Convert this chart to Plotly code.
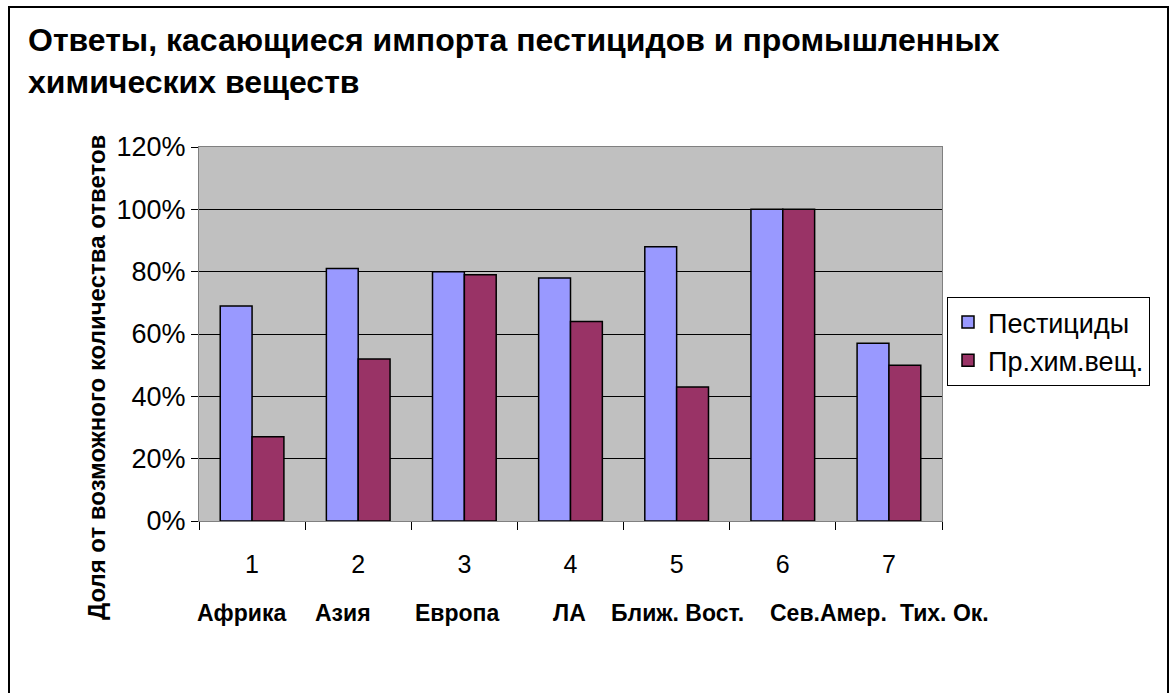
import plotly.graph_objects as go

categories = ["1", "2", "3", "4", "5", "6", "7"]
regions = ["Африка", "Азия", "Европа", "ЛА", "Ближ. Вост.", "Сев.Амер.", "Тих. Ок."]
region_x = [241, 343, 457, 569, 677, 828, 944]
pesticides = [0.69, 0.81, 0.80, 0.78, 0.88, 1.00, 0.57]
chemicals = [0.27, 0.52, 0.79, 0.64, 0.43, 1.00, 0.50]
y_ticks = [0, 0.2, 0.4, 0.6, 0.8, 1.0, 1.2]
y_ticklabels = ["0%", "20%", "40%", "60%", "80%", "100%", "120%"]

W, H = 1174, 693
L, R, T, B = 199, 942, 147, 521
FONT = "Liberation Sans, Arial, sans-serif"

def px(xp):
    return (xp - L) / (R - L)

def py(yp):
    return (B - yp) / (B - T)

fig = go.Figure()
fig.add_trace(go.Bar(x=categories, y=pesticides, name="Пестициды",
                     marker=dict(color="#9999FF", line=dict(color="black", width=1.5))))
fig.add_trace(go.Bar(x=categories, y=chemicals, name="Пр.хим.вещ.",
                     marker=dict(color="#993366", line=dict(color="black", width=1.5))))

fig.update_layout(
    width=W, height=H,
    margin=dict(l=L, r=W - R, t=T, b=H - B, pad=0),
    paper_bgcolor="white", plot_bgcolor="#C0C0C0",
    barmode="group", bargap=0.4, bargroupgap=0,
    font=dict(family=FONT, color="black"),
    showlegend=True,
    legend=dict(x=px(947), xanchor="left", y=py(297), yanchor="top",
                bordercolor="black", borderwidth=1, bgcolor="white",
                font=dict(size=27, family=FONT), itemwidth=30, tracegroupgap=6),
)
fig.update_yaxes(range=[0, 1.2], tickvals=y_ticks, ticktext=y_ticklabels,
                 showgrid=True, gridcolor="black", gridwidth=1,
                 ticks="outside", ticklen=7, tickcolor="black",
                 showline=True, linecolor="#808080", linewidth=1, mirror=True,
                 tickfont=dict(size=27, family=FONT), zeroline=False)
fig.update_xaxes(ticks="outside", tickson="boundaries", ticklen=8, tickcolor="black",
                 showline=True, linecolor="#808080", linewidth=1, mirror=True,
                 tickfont=dict(size=25, family=FONT), ticklabelstandoff=21)

fig.add_annotation(text="<b>Ответы, касающиеся импорта пестицидов и промышленных<br>химических веществ</b>",
                   xref="paper", yref="paper", x=px(26), y=py(20), xanchor="left", yanchor="top",
                   align="left", showarrow=False, font=dict(size=32, family=FONT))

for name, xp in zip(regions, region_x):
    fig.add_annotation(text="<b>" + name + "</b>", xref="paper", yref="paper",
                       x=px(xp), y=py(613), xanchor="center", yanchor="middle",
                       showarrow=False, font=dict(size=23, family=FONT))

fig.add_annotation(text="<b>Доля от возможного количества ответов</b>", textangle=-90,
                   xref="paper", yref="paper", x=px(96), y=py(378),
                   xanchor="center", yanchor="middle", showarrow=False,
                   font=dict(size=24, family=FONT))

fig.add_shape(type="rect", xref="paper", yref="paper",
              x0=px(9), x1=px(1168), y0=py(700), y1=py(7),
              line=dict(color="black", width=2), fillcolor="rgba(0,0,0,0)", layer="below")

fig.write_html("out.html", config={"displayModeBar": False},
               post_script="document.body.style.margin='0';")
